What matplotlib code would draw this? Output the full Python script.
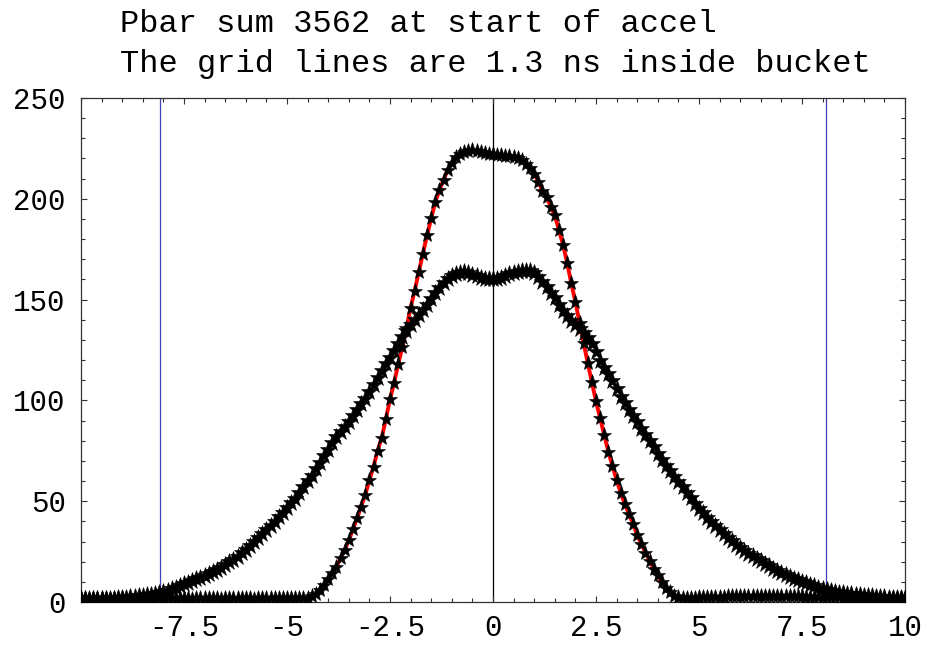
import numpy as np
import matplotlib
matplotlib.use("Agg")
import matplotlib.pyplot as plt
from matplotlib.ticker import FixedLocator, MultipleLocator, FixedFormatter

# ---- data -------------------------------------------------------------
title_lines = ["Pbar sum 3562 at start of accel",
               "The grid lines are 1.3 ns inside bucket"]

x_first, x_last, n_points = -10.0, 10.0, 201
time_ns = np.linspace(x_first, x_last, n_points)

# narrow (bunched) profile, also traced by the red curve
narrow = [
    1.8, 1.8, 1.7, 1.8, 1.8, 1.9, 1.8, 1.7, 1.8, 1.8,
    1.8, 1.7, 1.8, 1.8, 1.9, 1.8, 1.8, 1.7, 1.8, 1.8,
    1.7, 1.8, 1.8, 1.9, 1.8, 1.8, 1.8, 1.7, 1.8, 1.8,
    1.8, 1.9, 1.8, 1.8, 1.7, 1.8, 1.8, 1.8, 1.9, 1.8,
    1.8, 1.8, 1.7, 1.8, 1.8, 1.8, 1.9, 1.8, 1.8, 1.8,
    1.8, 1.8, 1.9, 1.9, 2.0,
    2.2, 2.8, 4.0, 5.8, 8.3,
    11.2, 14.2, 17.5, 21.7, 25.8, 30.6, 36.0, 41.5, 47.3, 53.2,
    60.5, 67.1, 75.1, 81.5, 90.8, 100.5, 108.8, 118.0, 126.5, 136.0,
    146.0, 154.5, 163.8, 172.8, 182.0, 190.3, 198.5, 204.3, 209.5, 214.2,
    217.8, 220.5, 222.3, 223.3, 223.8, 224.0, 223.8, 223.3, 222.8, 222.4,
    222.0, 221.8, 221.5, 221.3, 221.0, 220.8, 220.2, 219.3, 217.5, 215.3,
    212.5, 208.5, 203.8, 201.0, 196.1, 191.8, 184.5, 177.2, 168.3, 158.0,
    149.0, 138.5, 128.5, 118.5, 109.0, 99.5, 91.1, 82.8, 74.5, 67.5,
    60.5, 54.2, 48.5, 43.8, 38.7, 33.2, 28.8, 24.5, 20.4, 16.6,
    13.2, 9.9, 7.1, 4.8, 3.1, 2.3, 2.1, 2.1, 2.2, 2.2,
    2.3, 2.4, 2.4, 2.5, 2.6, 2.6, 2.7, 2.8, 2.8, 2.9,
    2.9, 3.0, 3.0, 3.1, 3.1, 3.2, 3.2, 3.2, 3.2, 3.1,
    3.1, 3.0, 3.0, 2.9, 2.9, 2.8, 2.7, 2.7, 2.6, 2.5,
    2.5, 2.4, 2.4, 2.3, 2.3, 2.2, 2.2, 2.1, 2.1, 2.1,
    2.0, 2.0, 2.0, 1.9, 1.9, 1.9, 1.9, 1.8, 1.8, 1.8, 1.8,
]

# wide (debunched) profile
wide = [
    1.5, 1.5, 1.5, 1.5, 1.5, 1.5, 1.6, 1.6, 1.7, 1.8,
    1.9, 2.1, 2.3, 2.5, 2.8, 3.1, 3.4, 3.7, 4.0, 4.3,
    4.8, 5.5, 6.3, 7.1, 8.0, 8.8, 9.6, 10.4, 11.2, 12.1,
    13.0, 14.0, 15.0, 16.0, 17.1, 18.3, 19.6, 21.0, 22.5, 24.2,
    26.0, 27.9, 29.8, 31.8, 33.8, 35.8, 37.8, 39.7, 42.0, 44.3,
    46.6, 48.9, 51.2, 54.0, 56.9, 59.8, 62.7, 65.8, 69.0, 72.3,
    75.6, 78.8, 81.6, 84.2, 86.6, 89.2, 92.2, 95.1, 98.0, 100.9,
    104.2, 107.6, 111.2, 114.6, 117.9, 121.2, 124.6, 127.9, 131.3, 134.6,
    137.4, 139.8, 142.2, 144.6, 147.3, 150.2, 153.1, 156.0, 158.4, 160.3,
    161.8, 162.9, 163.4, 163.5, 163.0, 162.2, 161.5, 160.9, 160.4, 160.1,
    160.0, 160.3, 160.9, 161.7, 162.5, 163.2, 163.8, 164.2, 164.4, 164.2,
    163.2, 161.0, 158.6, 156.2, 153.5, 150.8, 147.5, 144.5, 141.8, 139.4,
    137.4, 135.3, 133.3, 131.0, 128.2, 124.0, 119.5, 116.0, 113.0, 109.5,
    105.5, 101.5, 98.5, 95.3, 92.2, 89.2, 86.0, 83.0, 79.9, 76.8,
    73.6, 70.4, 67.6, 64.8, 62.2, 59.6, 57.0, 54.3, 51.5, 48.8,
    46.3, 44.0, 41.8, 39.6, 37.6, 35.6, 33.7, 31.8, 30.1, 28.4,
    26.8, 25.3, 23.9, 22.6, 21.4, 20.2, 19.0, 17.8, 16.6, 15.5,
    14.5, 13.5, 12.5, 11.6, 10.8, 10.0, 9.2, 8.5, 7.8, 7.1,
    6.5, 6.0, 5.5, 5.1, 4.7, 4.4, 4.1, 3.8, 3.6, 3.4,
    3.2, 3.0, 2.8, 2.6, 2.5, 2.3, 2.2, 2.1, 2.0, 1.9, 1.8,
]

bucket_lines = [-8.08, 8.08]
center_line = 0.0

x_ticks = [-7.5, -5, -2.5, 0, 2.5, 5, 7.5, 10]
x_tick_labels = ["-7.5", "-5", "-2.5", "0", "2.5", "5", "7.5", "10"]
y_ticks = [0, 50, 100, 150, 200, 250]
y_tick_labels = ["0", "50", "100", "150", "200", "250"]

# ---- figure ------------------------------------------------------------
W, H = 925, 648
fig = plt.figure(figsize=(W / 100, H / 100), dpi=100)
ax = fig.add_axes([81 / W, 1 - 602 / H, (905 - 81) / W, (602 - 98) / H])

font = "Liberation Mono"

ax.axvline(center_line, color="black", lw=0.9, zorder=1)
for bx in bucket_lines:
    ax.axvline(bx, color="#4040b8", lw=0.9, zorder=1)

ax.plot(time_ns, narrow, color="#ff0000", lw=2.8, zorder=2)
ax.plot(time_ns, wide, linestyle="none", marker="*", markersize=12.5,
        color="black", markeredgecolor="black", markeredgewidth=0.4, zorder=3)
ax.plot(time_ns, narrow, linestyle="none", marker="*", markersize=11,
        color="black", markeredgecolor="black", markeredgewidth=0.4, zorder=4)

ax.set_xlim(-10, 10)
ax.set_ylim(0, 250)

ax.xaxis.set_major_locator(FixedLocator(x_ticks))
ax.xaxis.set_major_formatter(FixedFormatter(x_tick_labels))
ax.xaxis.set_minor_locator(MultipleLocator(0.5))
ax.yaxis.set_major_locator(FixedLocator(y_ticks))
ax.yaxis.set_major_formatter(FixedFormatter(y_tick_labels))
ax.yaxis.set_minor_locator(MultipleLocator(10))

ax.tick_params(which="both", direction="in", top=True, right=True,
               width=0.8, color="#333333")
ax.tick_params(which="major", length=4.5)
ax.tick_params(which="minor", length=3)
ax.tick_params(axis="x", which="major", pad=9, labelsize=21)
ax.tick_params(axis="y", which="major", pad=11, labelsize=21)
for lab in ax.get_xticklabels() + ax.get_yticklabels():
    lab.set_fontfamily(font)

for sp in ax.spines.values():
    sp.set_linewidth(0.9)
    sp.set_color("#333333")

fig.text(120 / W, 1 - 32 / H, title_lines[0], fontsize=23, family=font,
         ha="left", va="baseline")
fig.text(120 / W, 1 - 72 / H, title_lines[1], fontsize=23, family=font,
         ha="left", va="baseline")

fig.savefig("out.png", dpi=100, facecolor="white")
